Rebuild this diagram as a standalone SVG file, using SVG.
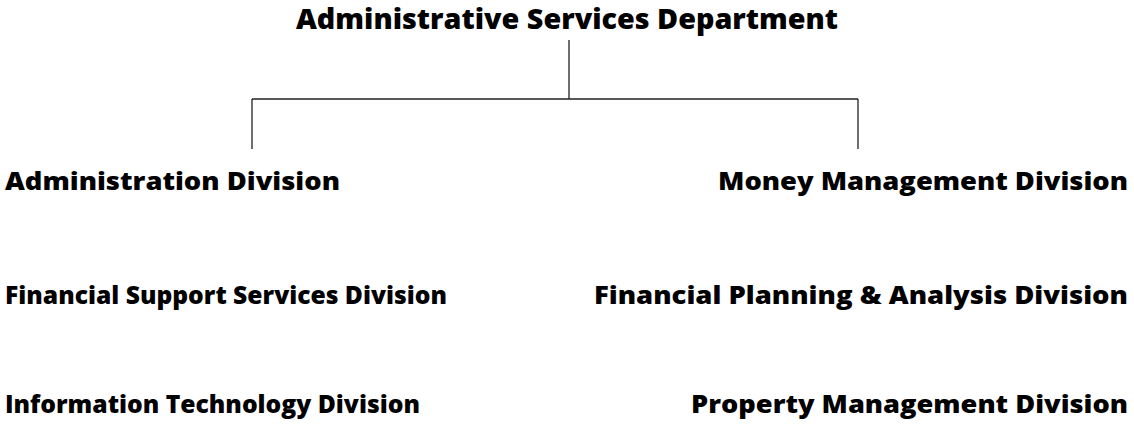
<svg xmlns="http://www.w3.org/2000/svg" width="1134" height="425" viewBox="0 0 1134 425">
<style>
.t{font-family:"Open Sans","DejaVu Sans",sans-serif;font-weight:800;fill:#000;}
.h{font-size:28px;}
.d{font-size:24px;}
.c{stroke:#222;stroke-width:1.3;fill:none;}
</style>
<rect width="1134" height="425" fill="#fff"/>
<g id="connectors">
<path class="c" d="M569,40 V99 M252,99 H858 M252,99 V149 M858,99 V149"/>
</g>
<g id="asd"><text class="t h" x="296" y="29" textLength="542" lengthAdjust="spacingAndGlyphs">Administrative Services Department</text></g>
<g id="admin"><text class="t d" x="5" y="190" textLength="335" lengthAdjust="spacingAndGlyphs">Administration Division</text></g>
<g id="money"><text class="t d" x="1128" y="190" text-anchor="end" textLength="410" lengthAdjust="spacingAndGlyphs">Money Management Division</text></g>
<g id="fss"><text class="t d" x="5" y="304" textLength="442" lengthAdjust="spacingAndGlyphs">Financial Support Services Division</text></g>
<g id="fpa"><text class="t d" x="1128" y="304" text-anchor="end" textLength="534" lengthAdjust="spacingAndGlyphs">Financial Planning &amp; Analysis Division</text></g>
<g id="it"><text class="t d" x="5" y="413" textLength="415" lengthAdjust="spacingAndGlyphs">Information Technology Division</text></g>
<g id="prop"><text class="t d" x="1128" y="413" text-anchor="end" textLength="437" lengthAdjust="spacingAndGlyphs">Property Management Division</text></g>
</svg>
